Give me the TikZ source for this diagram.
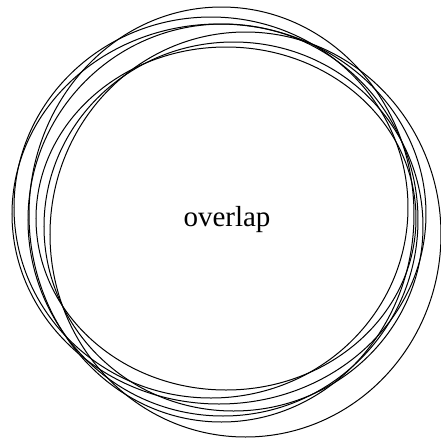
\documentclass[tikz,border=0pt]{standalone}
\usepackage{fontspec}
\setmainfont{Liberation Serif}
\usepackage{tikz}
\tikzset{ring/.style={draw=black,line width=0.5pt}}

\begin{document}
\begin{tikzpicture}[x=0.5pt,y=-0.5pt]
\useasboundingbox (0,0) rectangle (441,441);
% rings, centre x / centre y / radius x / radius y
\foreach \cx/\cy/\rx/\ry in {219/214/207/190, 245.5/234.5/195.5/202.5, 211/207.5/197/190.5,
  233.5/226.5/189.5/184.5, 223/220/195/196, 226/218.5/190/171.5, 221.5/214.5/192.5/207.5}
  \draw[ring] (\cx,\cy) ellipse [x radius=\rx, y radius=\ry];
\node[font=\fontsize{14.5}{17}\selectfont] (lbl) at (227,220) {overlap};
\end{tikzpicture}
\end{document}
